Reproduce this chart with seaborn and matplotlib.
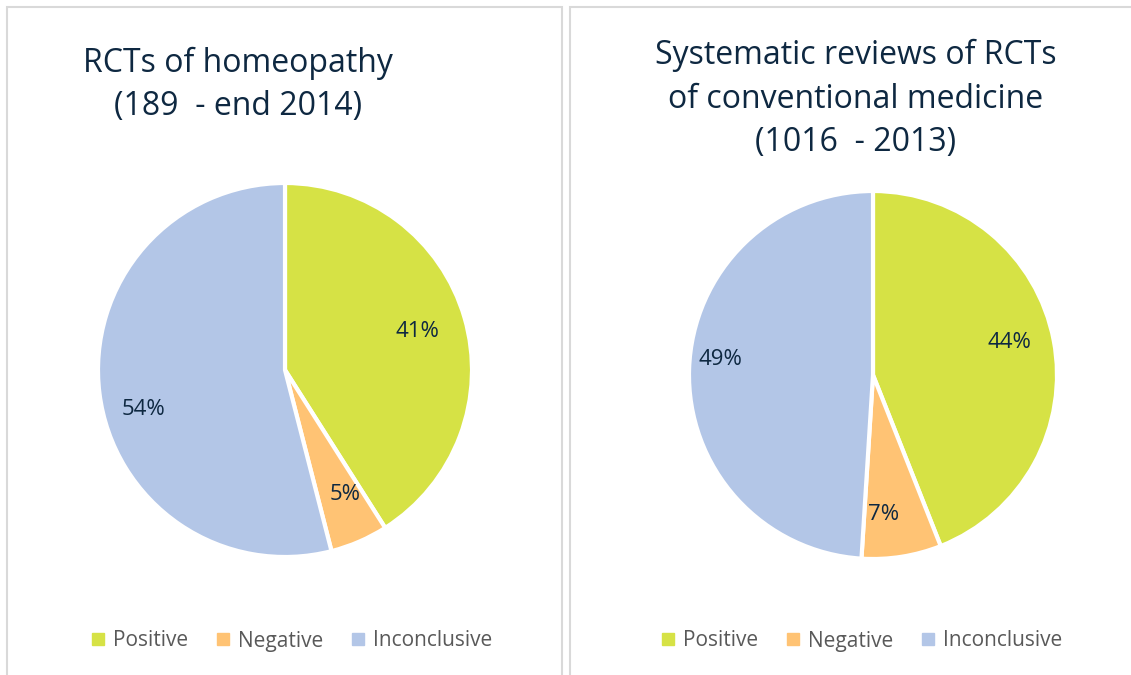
import matplotlib.pyplot as plt
import seaborn as sns
from matplotlib.patches import Rectangle
from matplotlib.lines import Line2D

categories = ["Positive", "Negative", "Inconclusive"]
homeopathy = [41, 5, 54]
conventional = [44, 7, 49]
titles = ["RCTs of homeopathy\n(189  - end 2014)",
          "Systematic reviews of RCTs\nof conventional medicine\n(1016  - 2013)"]

sns.set_style("white")
plt.rcParams["font.family"] = ["Open Sans", "DejaVu Sans"]

colors = sns.color_palette(["#D6E245", "#FFC374", "#B3C6E7"])
W, H = 1131, 675
fig = plt.figure(figsize=(W / 100, H / 100), dpi=100)
fig.patch.set_facecolor("white")

# panel frames (pixels)
for x0, x1 in [(7, 562), (570, 1140)]:
    fig.add_artist(Rectangle((x0 / W, -0.05), (x1 - x0) / W, (H - 7) / H + 0.05,
                             transform=fig.transFigure, fill=False,
                             edgecolor="#D9D9D9", linewidth=1.5))

# pies: (center x, center y from top, radius) in pixels
layout = [(285, 370, 187), (873, 375, 184)]
title_pos = [(238, 85), (856, 99)]
legend_x = [290, 860]
# small nudges of the % labels (Excel "best fit" placement)
label_nudge = [[(0, 0), (0.027, 0.016), (-0.02, -0.12)],
               [(0.016, 0.038), (-0.06, -0.027), (-0.092, 0.06)]]

for vals, (cx, cy, r), title, (tx, ty), lx, nudge in zip(
        [homeopathy, conventional], layout, titles, title_pos, legend_x, label_nudge):
    ax = fig.add_axes([(cx - r) / W, (H - cy - r) / H, 2 * r / W, 2 * r / H])
    wedges, texts, autotexts = ax.pie(
        vals, colors=colors, startangle=90, counterclock=False,
        autopct=lambda p: f"{p:.0f}%", pctdistance=0.74,
        wedgeprops=dict(edgecolor="white", linewidth=3),
        textprops=dict(color="#0E2841", fontsize=16))
    for t, (dx, dy) in zip(autotexts, nudge):
        x, y = t.get_position()
        t.set_position((x + dx, y + dy))
    ax.set_xlim(-1.0, 1.0)
    ax.set_ylim(-1.0, 1.0)
    ax.set_aspect("equal")
    ax.axis("off")

    fig.text(tx / W, 1 - ty / H, title, ha="center", va="center",
             fontsize=23, color="#0E2841", linespacing=1.42)

    handles = [Line2D([], [], marker="s", linestyle="", markersize=8,
                      markerfacecolor=c, markeredgecolor=c) for c in colors]
    fig.legend(handles, categories, loc="center", bbox_to_anchor=(lx / W, 1 - 641 / H),
               ncol=3, frameon=False, fontsize=15, labelcolor="#595959",
               handletextpad=0.2, columnspacing=1.2, handlelength=1.0)

fig.savefig("out.png", dpi=100, facecolor="white")
